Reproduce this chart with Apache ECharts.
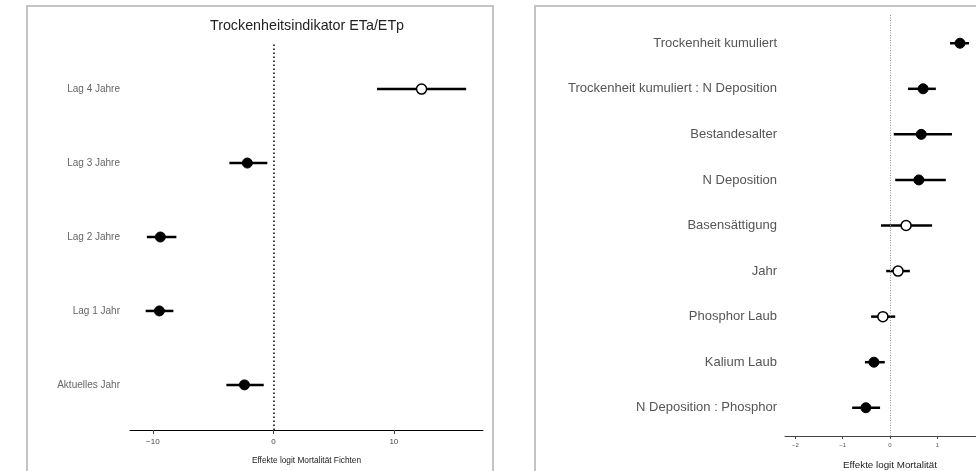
<!DOCTYPE html>
<html>
<head>
	<meta charset="utf-8">
	<title>Effekte logit Mortalität</title>
</head>
<body style="margin:0">
<script type="text/javascript" src="https://cdn.jsdelivr.net/npm/echarts@6/dist/echarts.min.js"></script>
<div id="container" style="width: 976px;height: 471px;"></div>
<script type="text/javascript">
    // linkes Panel: Trockenheitsindikator (unten -> oben)
    var lagNames = ['Aktuelles Jahr', 'Lag 1 Jahr', 'Lag 2 Jahre', 'Lag 3 Jahre', 'Lag 4 Jahre'];
    var lagEst = [-2.4, -9.46, -9.38, -2.16, 12.3];
    var lagLo = [-3.9, -10.6, -10.5, -3.65, 8.6];
    var lagHi = [-0.8, -8.3, -8.05, -0.5, 16.0];
    var lagSig = [true, true, true, true, false];

    // rechtes Panel: Modellterme (unten -> oben)
    var termNames = ['N Deposition : Phosphor', 'Kalium Laub', 'Phosphor Laub', 'Jahr', 'Basensättigung',
        'N Deposition', 'Bestandesalter', 'Trockenheit kumuliert : N Deposition', 'Trockenheit kumuliert'];
    var termEst = [-0.51, -0.34, -0.15, 0.17, 0.34, 0.61, 0.66, 0.70, 1.48];
    var termLo = [-0.80, -0.53, -0.40, -0.08, -0.19, 0.11, 0.08, 0.38, 1.27];
    var termHi = [-0.21, -0.11, 0.11, 0.42, 0.89, 1.18, 1.31, 0.97, 1.67];
    var termSig = [true, true, false, false, false, true, true, true, true];

    var leftTicks = [-10, 0, 10];
    var rightTicks = [-2, -1, 0, 1, 2];

    var font = 'Liberation Sans, Arial, sans-serif';

    function ciData(lo, hi) {
        return lo.map(function (v, i) { return [v, hi[i], i]; });
    }
    function pointData(est, sig) {
        return est.map(function (v, i) {
            return {
                value: [v, i],
                itemStyle: sig[i]
                    ? { color: '#000', borderColor: '#000', borderWidth: 1, opacity: 1 }
                    : { color: '#fff', borderColor: '#000', borderWidth: 1.5, opacity: 1 }
            };
        });
    }
    function renderCI(params, api) {
        var a = api.coord([api.value(0), api.value(2)]);
        var b = api.coord([api.value(1), api.value(2)]);
        return {
            type: 'line',
            shape: { x1: a[0], y1: a[1], x2: b[0], y2: b[1] },
            style: { stroke: '#000', lineWidth: 2.5 }
        };
    }
    function minus(v) {
        return String(v).replace('-', '\u2212');
    }

    var dom = document.getElementById('container');
    var myChart = echarts.init(dom, null, { renderer: 'canvas' });
    var option = {
        animation: false,
        backgroundColor: '#fff',
        title: {
            text: 'Trockenheitsindikator ETa/ETp',
            left: 302,
            top: 14,
            textAlign: 'center',
            textStyle: { fontFamily: font, fontSize: 14.3, fontWeight: 'normal', color: '#222' }
        },
        graphic: [
            { type: 'rect', shape: { x: 27, y: 6, width: 466, height: 480 },
              style: { fill: 'none', stroke: '#c4c4c4', lineWidth: 2 } },
            { type: 'rect', shape: { x: 535, y: 6, width: 470, height: 480 },
              style: { fill: 'none', stroke: '#c4c4c4', lineWidth: 2 } }
        ],
        grid: [
            { left: 130, width: 353, top: 44, height: 386, outerBoundsMode: 'none' },
            { left: 785, width: 210, top: 15, height: 421, outerBoundsMode: 'none' }
        ],
        xAxis: [
            {
                gridIndex: 0, type: 'value', min: -11.9, max: 17.4,
                name: 'Effekte logit Mortalität Fichten', nameLocation: 'middle', nameGap: 27,
                nameTextStyle: { fontFamily: font, fontSize: 8.3, color: '#222' },
                axisLine: { show: true, onZero: false, lineStyle: { color: '#000', width: 1 } },
                axisTick: { show: true, length: 4, customValues: leftTicks, lineStyle: { color: '#444' } },
                axisLabel: { customValues: leftTicks, margin: 8, fontFamily: font, fontSize: 8, color: '#444', formatter: minus },
                splitLine: { show: false }
            },
            {
                gridIndex: 1, type: 'value', min: -2.22, max: 2.22,
                name: 'Effekte logit Mortalität', nameLocation: 'middle', nameGap: 24,
                nameTextStyle: { fontFamily: font, fontSize: 9.8, color: '#222' },
                axisLine: { show: true, onZero: false, lineStyle: { color: '#444', width: 1 } },
                axisTick: { show: true, length: 3, customValues: rightTicks, lineStyle: { color: '#444' } },
                axisLabel: { customValues: rightTicks, margin: 6, fontFamily: font, fontSize: 6, color: '#555', formatter: minus },
                splitLine: { show: false }
            }
        ],
        yAxis: [
            {
                gridIndex: 0, type: 'value', min: -0.61, max: 4.61,
                axisLine: { show: false }, axisTick: { show: false }, splitLine: { show: false },
                axisLabel: {
                    customValues: [0, 1, 2, 3, 4], margin: 10,
                    fontFamily: font, fontSize: 10, color: '#666',
                    formatter: function (v) { return lagNames[Math.round(v)]; }
                }
            },
            {
                gridIndex: 1, type: 'value', min: -0.62, max: 8.62,
                axisLine: { show: false }, axisTick: { show: false }, splitLine: { show: false },
                axisLabel: {
                    customValues: [0, 1, 2, 3, 4, 5, 6, 7, 8], margin: 8,
                    fontFamily: font, fontSize: 13, color: '#555',
                    formatter: function (v) { return termNames[Math.round(v)]; }
                }
            }
        ],
        series: [
            {
                type: 'custom', xAxisIndex: 0, yAxisIndex: 0,
                data: ciData(lagLo, lagHi), encode: { x: [0, 1], y: 2 },
                renderItem: renderCI, z: 2
            },
            {
                type: 'scatter', xAxisIndex: 0, yAxisIndex: 0,
                symbol: 'circle', symbolSize: 10, z: 3,
                data: pointData(lagEst, lagSig),
                markLine: {
                    silent: true, symbol: 'none', label: { show: false },
                    lineStyle: { color: '#000', width: 1.5, type: [1.5, 2.5] },
                    data: [{ xAxis: 0 }]
                }
            },
            {
                type: 'custom', xAxisIndex: 1, yAxisIndex: 1,
                data: ciData(termLo, termHi), encode: { x: [0, 1], y: 2 },
                renderItem: renderCI, z: 2
            },
            {
                type: 'scatter', xAxisIndex: 1, yAxisIndex: 1,
                symbol: 'circle', symbolSize: 10, z: 3,
                data: pointData(termEst, termSig),
                markLine: {
                    silent: true, symbol: 'none', label: { show: false },
                    lineStyle: { color: '#999', width: 1, type: [1, 1.5] },
                    data: [{ xAxis: 0 }]
                }
            }
        ]
    };
    myChart.setOption(option);
    window.addEventListener('resize', myChart.resize);
</script>
</body>
</html>
